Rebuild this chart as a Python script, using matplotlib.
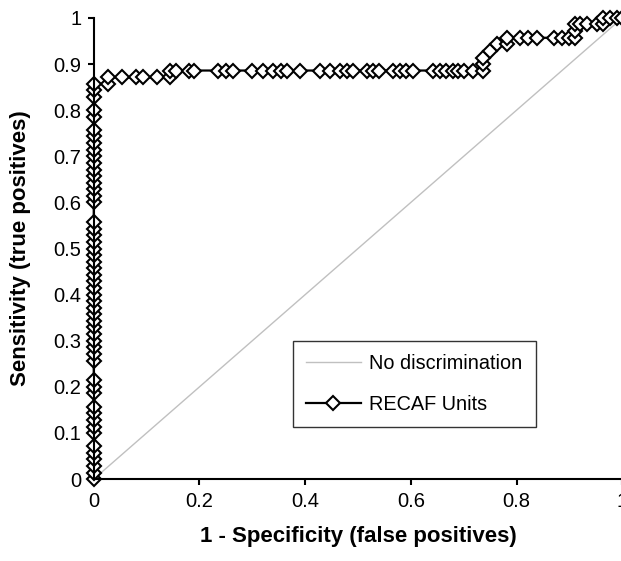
import matplotlib
matplotlib.use("Agg")
import matplotlib.pyplot as plt

plt.rcParams["font.family"] = ["Liberation Sans", "DejaVu Sans"]

# ROC points (1 - specificity, sensitivity)
fpr = [
    0, 0, 0, 0, 0, 0, 0, 0, 0, 0, 0, 0, 0, 0, 0, 0, 0, 0, 0, 0, 0, 0, 0, 0,
    0, 0, 0, 0, 0, 0, 0, 0, 0, 0, 0, 0, 0, 0, 0, 0, 0, 0, 0, 0, 0, 0, 0, 0,
    0, 0, 0, 0, 0,
    0.027, 0.027, 0.053, 0.08, 0.093, 0.12, 0.144, 0.144, 0.155, 0.18, 0.19,
    0.235, 0.25, 0.263, 0.30, 0.32, 0.34, 0.355, 0.366, 0.39, 0.428, 0.447,
    0.466, 0.479, 0.49, 0.517, 0.528, 0.54, 0.566, 0.58, 0.59, 0.604, 0.642,
    0.655, 0.667, 0.68, 0.69, 0.70, 0.718, 0.737, 0.737, 0.737, 0.75, 0.763,
    0.782, 0.782, 0.807, 0.822, 0.839, 0.87, 0.886, 0.9, 0.911, 0.911, 0.911,
    0.92, 0.933, 0.952, 0.964, 0.964, 0.977, 0.99, 1.0,
]
tpr = [
    0, 0.014, 0.029, 0.043, 0.057, 0.071, 0.1, 0.114, 0.129, 0.143, 0.157,
    0.186, 0.2, 0.214, 0.257, 0.271, 0.286, 0.3, 0.314, 0.329, 0.343, 0.357,
    0.371, 0.386, 0.4, 0.414, 0.429, 0.443, 0.457, 0.471, 0.486, 0.5, 0.514,
    0.529, 0.543, 0.557, 0.6, 0.614, 0.629, 0.643, 0.657, 0.671, 0.686, 0.7,
    0.714, 0.729, 0.743, 0.757, 0.786, 0.8, 0.829, 0.843, 0.857,
    0.857, 0.871, 0.871, 0.871, 0.871, 0.871, 0.871,
    0.886, 0.886, 0.886, 0.886, 0.886, 0.886, 0.886, 0.886, 0.886, 0.886,
    0.886, 0.886, 0.886, 0.886, 0.886, 0.886, 0.886, 0.886, 0.886, 0.886,
    0.886, 0.886, 0.886, 0.886, 0.886, 0.886, 0.886, 0.886, 0.886, 0.886,
    0.886, 0.886, 0.886,
    0.9, 0.914, 0.929, 0.943, 0.943,
    0.957, 0.957, 0.957, 0.957, 0.957, 0.957, 0.957, 0.957,
    0.971, 0.986, 0.986, 0.986, 0.986, 0.986, 1.0, 1.0, 1.0, 1.0,
]
diag = [0, 1]

x_ticks = [0, 0.2, 0.4, 0.6, 0.8, 1]
x_tick_labels = ["0", "0.2", "0.4", "0.6", "0.8", "1"]
y_ticks = [0, 0.1, 0.2, 0.3, 0.4, 0.5, 0.6, 0.7, 0.8, 0.9, 1]
y_tick_labels = ["0", "0.1", "0.2", "0.3", "0.4", "0.5", "0.6", "0.7", "0.8", "0.9", "1"]

fig = plt.figure(figsize=(6.21, 5.61), dpi=100)
ax = fig.add_axes([0.151, 0.146, 0.851, 0.822])

ax.plot(diag, diag, color="#c0c0c0", lw=1.0, label="No discrimination")
ax.plot(fpr, tpr, color="black", lw=1.6, marker="D", markersize=7.5,
        markerfacecolor="white", markeredgecolor="black", markeredgewidth=1.5,
        label="RECAF Units", clip_on=False)

ax.set_xlim(0, 1)
ax.set_ylim(0, 1)
ax.set_xticks(x_ticks)
ax.set_xticklabels(x_tick_labels)
ax.set_yticks(y_ticks)
ax.set_yticklabels(y_tick_labels)
ax.tick_params(direction="out", length=4, width=1.5, labelsize=14.5, pad=5)

for side in ["top", "right"]:
    ax.spines[side].set_visible(False)
for side in ["left", "bottom"]:
    ax.spines[side].set_linewidth(1.5)

ax.set_xlabel("1 - Specificity (false positives)", fontsize=16,
              fontweight="bold", labelpad=11)
ax.set_ylabel("Sensitivity (true positives)", fontsize=16,
              fontweight="bold", labelpad=16)

leg = ax.legend(loc="lower left", bbox_to_anchor=(0.377, 0.113),
                fontsize=14.3, frameon=True, fancybox=False,
                borderpad=0.65, labelspacing=1.1, handlelength=2.75,
                handletextpad=0.45, borderaxespad=0)
leg.get_frame().set_edgecolor("black")
leg.get_frame().set_linewidth(1.0)

fig.savefig("out.png", dpi=100)
